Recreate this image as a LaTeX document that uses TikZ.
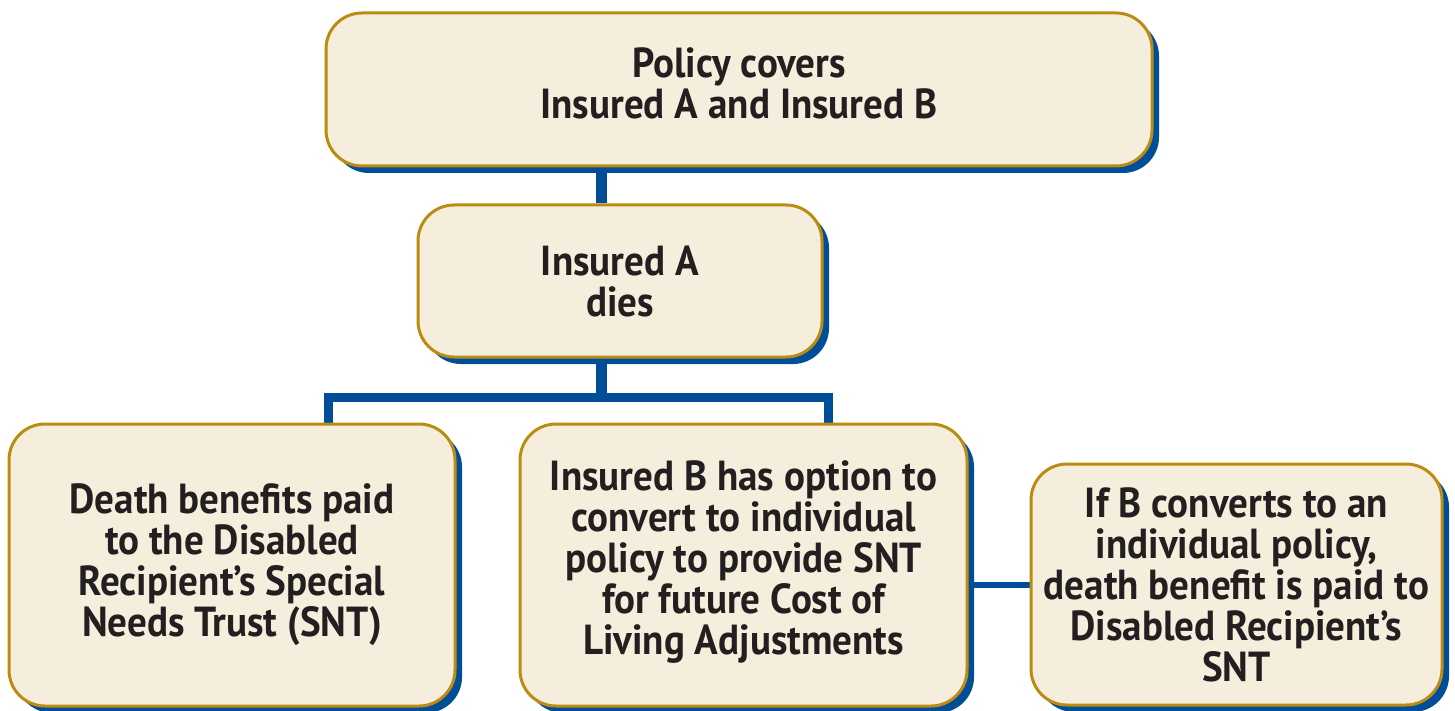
\documentclass[tikz,border=0pt]{standalone}
\usepackage{fontspec}
\setmainfont{PT Sans}[FakeStretch=0.93]
\usetikzlibrary{shadows,backgrounds}
\definecolor{cream}{HTML}{F5EEDD}
\definecolor{gold}{HTML}{BC8C12}
\definecolor{navy}{HTML}{004E97}
\definecolor{ink}{HTML}{231F20}
\tikzset{
  box/.style={draw=gold, line width=3pt, fill=cream, rounded corners=36pt,
    inner sep=0pt, align=center, text=ink,
    font=\fontsize{42}{41}\selectfont\bfseries,
    drop shadow={shadow xshift=7pt, shadow yshift=-7pt, fill=navy, opacity=1}},
  conn/.style={draw=navy, line width=11pt},
  thinconn/.style={draw=navy, line width=6pt}
}
\begin{document}
\begin{tikzpicture}[x=1pt,y=-1pt]
\useasboundingbox (0,0) rectangle (1455,711);
\node[box, minimum width=826pt, minimum height=153pt, text depth=12pt] (top) at (739,89.5) {Policy covers\\Insured A and Insured B};
\node[box, minimum width=404pt, minimum height=152pt] (ia) at (620,281) {Insured A\\dies};
\node[box, minimum width=446pt, minimum height=282pt] (left) at (232,565) {Death benefits paid\\to the Disabled\\Recipient’s Special\\Needs Trust (SNT)};
\node[box, minimum width=447pt, minimum height=282pt, text depth=15pt] (mid) at (743.5,565) {Insured B has option to\\convert to individual\\policy to provide SNT\\for future Cost of\\Living Adjustments};
\node[box, minimum width=411pt, minimum height=241pt] (right) at (1236.5,584.5) {If B converts to an\\individual policy,\\death benefit is paid to\\Disabled Recipient’s\\SNT};
\coordinate (j) at (601,397);
\coordinate (jl) at (328,397);
\coordinate (jr) at (828,397);
\begin{scope}[on background layer]
\draw[conn] (j |- top.south) -- (j |- ia.north);
\draw[conn] (j |- ia.south) -- (j);
\draw[conn, line width=9pt] (left.north -| jl) -- (jl) -- (jr) -- (mid.north -| jr);
\draw[thinconn] (right.west -| mid.east) -- (right.west);
\end{scope}
\end{tikzpicture}
\end{document}
